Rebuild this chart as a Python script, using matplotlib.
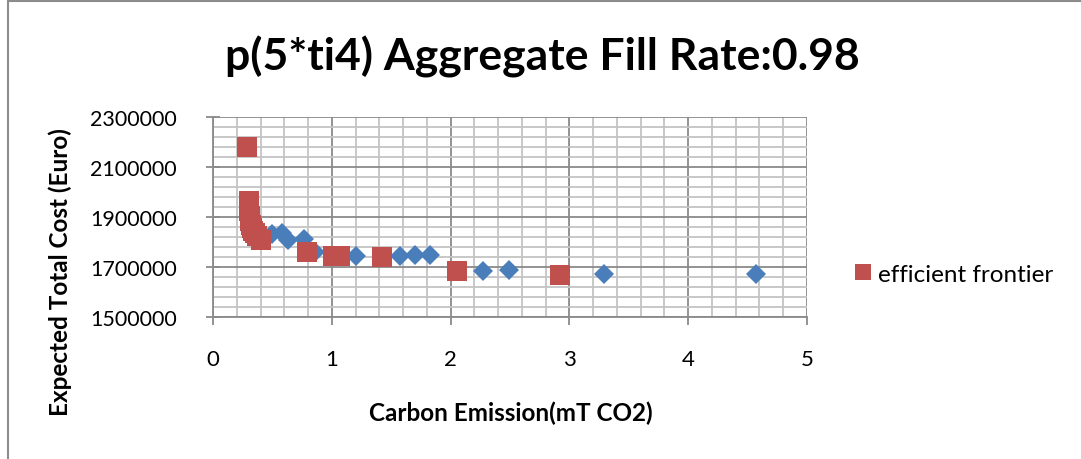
import matplotlib
matplotlib.use("Agg")
import matplotlib.pyplot as plt
from matplotlib.patches import Rectangle
from matplotlib.ticker import MultipleLocator
from matplotlib.lines import Line2D

# Data
all_x = [0.50, 0.58, 0.63, 0.77, 0.86, 1.20, 1.57, 1.70, 1.83, 2.27, 2.49, 3.29, 4.57]
all_y = [1832000, 1838000, 1808000, 1812000, 1762000, 1746000, 1746000, 1748000,
         1748000, 1684000, 1688000, 1672000, 1672000]
front_x = [0.29, 0.30, 0.30, 0.30, 0.31, 0.31, 0.32, 0.33, 0.34, 0.35, 0.37, 0.40,
           0.79, 1.01, 1.07, 1.42, 2.05, 2.92]
front_y = [2180000, 1965000, 1945000, 1925000, 1905000, 1885000, 1870000, 1855000,
           1845000, 1835000, 1825000, 1808000, 1760000, 1745000, 1745000, 1740000,
           1686000, 1670000]
title = "p(5*ti4) Aggregate Fill Rate:0.98"
xlabel = "Carbon Emission(mT CO2)"
ylabel = "Expected Total Cost (Euro)"
legend_label = "efficient frontier"

W, H = 1081, 460
fig = plt.figure(figsize=(W / 100, H / 100), dpi=100)
fig.patch.set_facecolor("white")
font = "Lato"

# chart border
fig.patches.append(Rectangle((8 / W, -0.1), 2, (H - 2) / H + 0.1, transform=fig.transFigure,
                             fill=False, edgecolor="#8c8c8c", linewidth=1.5))

ax = fig.add_axes([213 / W, 1 - 318 / H, (807 - 213) / W, (318 - 118) / H])
ax.set_xlim(0, 5)
ax.set_ylim(1500000, 2300000)
ax.xaxis.set_major_locator(MultipleLocator(1))
ax.xaxis.set_minor_locator(MultipleLocator(0.2))
ax.yaxis.set_major_locator(MultipleLocator(200000, offset=100000))
ax.yaxis.set_minor_locator(MultipleLocator(40000, offset=20000))
ax.grid(which="minor", color="#c4c4c4", linewidth=1.3)
ax.grid(which="major", color="#8a8a8a", linewidth=1.3)
ax.set_axisbelow(True)
for s in ["top", "right"]:
    ax.spines[s].set_visible(False)
for s in ["left", "bottom"]:
    ax.spines[s].set_color("#8a8a8a")
    ax.spines[s].set_linewidth(1.3)
ax.tick_params(axis="x", which="major", direction="out", length=6, color="#8a8a8a",
               width=1.3, pad=17, labelsize=16)
ax.tick_params(axis="y", which="major", direction="inout", length=10, color="#8a8a8a",
               width=1.3, pad=21, labelsize=15.5)
ax.tick_params(which="minor", length=0)
ax.ticklabel_format(axis="y", style="plain", useOffset=False)
for lab in ax.get_xticklabels() + ax.get_yticklabels():
    lab.set_fontfamily(font)

ax.plot(all_x, all_y, linestyle="none", marker="D", markersize=10.5,
        color="#4a7ebb", markeredgewidth=0, clip_on=False)
ax.plot(front_x, front_y, linestyle="none", marker="s", markersize=14.5,
        color="#c0504d", markeredgewidth=0, clip_on=False)

fig.text(542 / W, 1 - 57 / H, title, ha="center", va="center",
         fontsize=32, fontweight="bold", family=font)
fig.text(511 / W, 1 - 413 / H, xlabel, ha="center", va="center",
         fontsize=17.5, fontweight="bold", family=font)
fig.text(60 / W, 1 - 272 / H, ylabel, ha="center", va="center", rotation=90,
         fontsize=17.5, fontweight="bold", family=font)

handle = Line2D([], [], linestyle="none", marker="s", markersize=12,
                color="#c0504d", markeredgewidth=0)
fig.legend([handle], [legend_label], loc="center left",
           bbox_to_anchor=(839 / W, 1 - 275 / H), frameon=False,
           prop={"family": font, "size": 17.5}, handletextpad=0.0,
           handlelength=1.2, borderaxespad=0)

fig.savefig("out.png", dpi=100)
